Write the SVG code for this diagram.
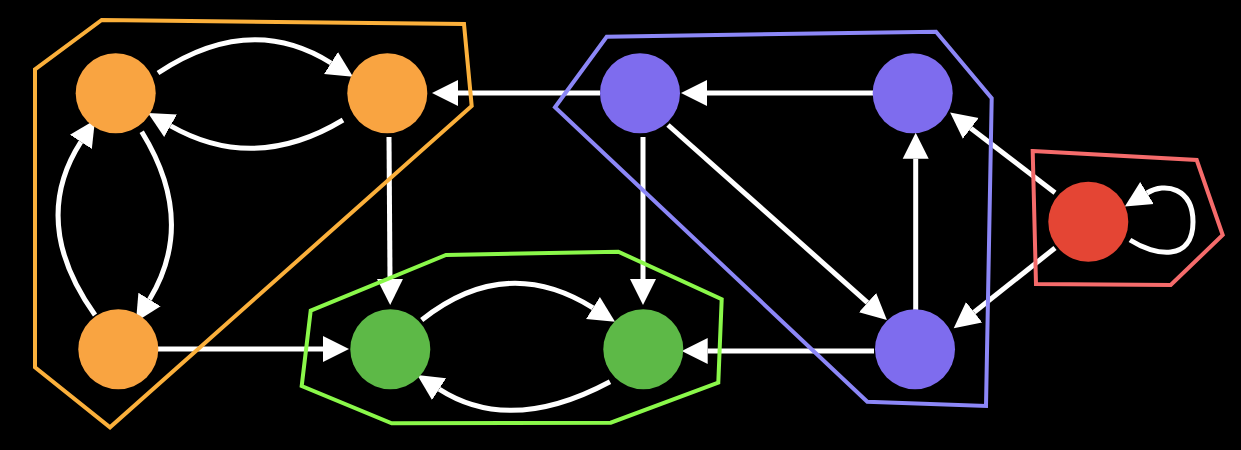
<svg xmlns="http://www.w3.org/2000/svg" width="1241" height="450" viewBox="0 0 1241 450">
<style>
.edge{fill:none;stroke:#ffffff;stroke-width:5;marker-end:url(#arr)}
.hull{fill:none;stroke-width:4;stroke-linejoin:miter}
.orange{fill:#F9A441}
.green{fill:#5DB947}
.purple{fill:#7E6CEE}
.red{fill:#E44534}
</style>
<defs>
<marker id="arr" markerUnits="userSpaceOnUse" markerWidth="28" markerHeight="28" refX="0" refY="13" orient="auto" viewBox="0 0 28 26">
<path d="M0,0 L26,13 L0,26 Z" fill="#ffffff"/>
</marker>
</defs>
<rect x="0" y="0" width="1241" height="450" fill="#000000"/>
<g id="edges">
<path class="edge" d="M158,73 Q250,12 331,63"/>
<path class="edge" d="M343,120 Q254.5,173.5 170.6,125.8"/>
<path class="edge" d="M141.7,131.7 Q197,221.3 149.5,299.5"/>
<path class="edge" d="M95,315 Q29,222.5 80.9,141.9"/>
<path class="edge" d="M389,137 L390,279"/>
<path class="edge" d="M158,349 L323,349"/>
<path class="edge" d="M421.7,320 Q505.7,253.2 593,307.9"/>
<path class="edge" d="M610,381.7 Q510.3,435 439.1,389.1"/>
<path class="edge" d="M600,93 L458,93"/>
<path class="edge" d="M643,137 L643,279"/>
<path class="edge" d="M873,93 L707,93"/>
<path class="edge" d="M668,125 L867.5,302.6"/>
<path class="edge" d="M915.7,311.7 L915.7,158.7"/>
<path class="edge" d="M874,351 L707.7,351"/>
<path class="edge" d="M1055,192.7 L970.8,128.3"/>
<path class="edge" d="M1055,248 L974.1,312.2"/>
<path class="edge" d="M1130,240 C1155,256 1193,262 1193,222 C1193,188 1165,182 1147,193"/>
</g>
<g id="clusters">
<polygon id="cluster-orange" class="hull" stroke="#FBB03B" points="35,69.3 101.7,20 464,24 471.7,106 110,427.3 35,367.3"/>
<polygon id="cluster-green" class="hull" stroke="#8AF84A" points="310.7,310.7 446,255 618.3,251.7 721.7,299.3 718.3,382.7 610.7,422.7 391.7,423.3 301.7,386"/>
<polygon id="cluster-purple" class="hull" stroke="#8C87F7" points="555,107.3 606.7,36.7 936,31.7 991.7,98.3 986,406 867.3,401.7"/>
<polygon id="cluster-red" class="hull" stroke="#F56B6B" points="1032.7,151 1196.7,160 1222.7,235 1170.7,285 1036,284"/>
</g>
<g id="node-a"><circle class="orange" cx="115.7" cy="93.3" r="40"/></g>
<g id="node-b"><circle class="orange" cx="387.3" cy="93.3" r="40"/></g>
<g id="node-c"><circle class="orange" cx="118.3" cy="349.3" r="40"/></g>
<g id="node-d"><circle class="green" cx="390.3" cy="349.3" r="40"/></g>
<g id="node-e"><circle class="green" cx="643.3" cy="349.3" r="40"/></g>
<g id="node-f"><circle class="purple" cx="640" cy="93.3" r="40"/></g>
<g id="node-g"><circle class="purple" cx="912.7" cy="93.3" r="40"/></g>
<g id="node-h"><circle class="purple" cx="915" cy="349.3" r="40"/></g>
<g id="node-i"><circle class="red" cx="1088.3" cy="221.7" r="40"/></g>
</svg>
